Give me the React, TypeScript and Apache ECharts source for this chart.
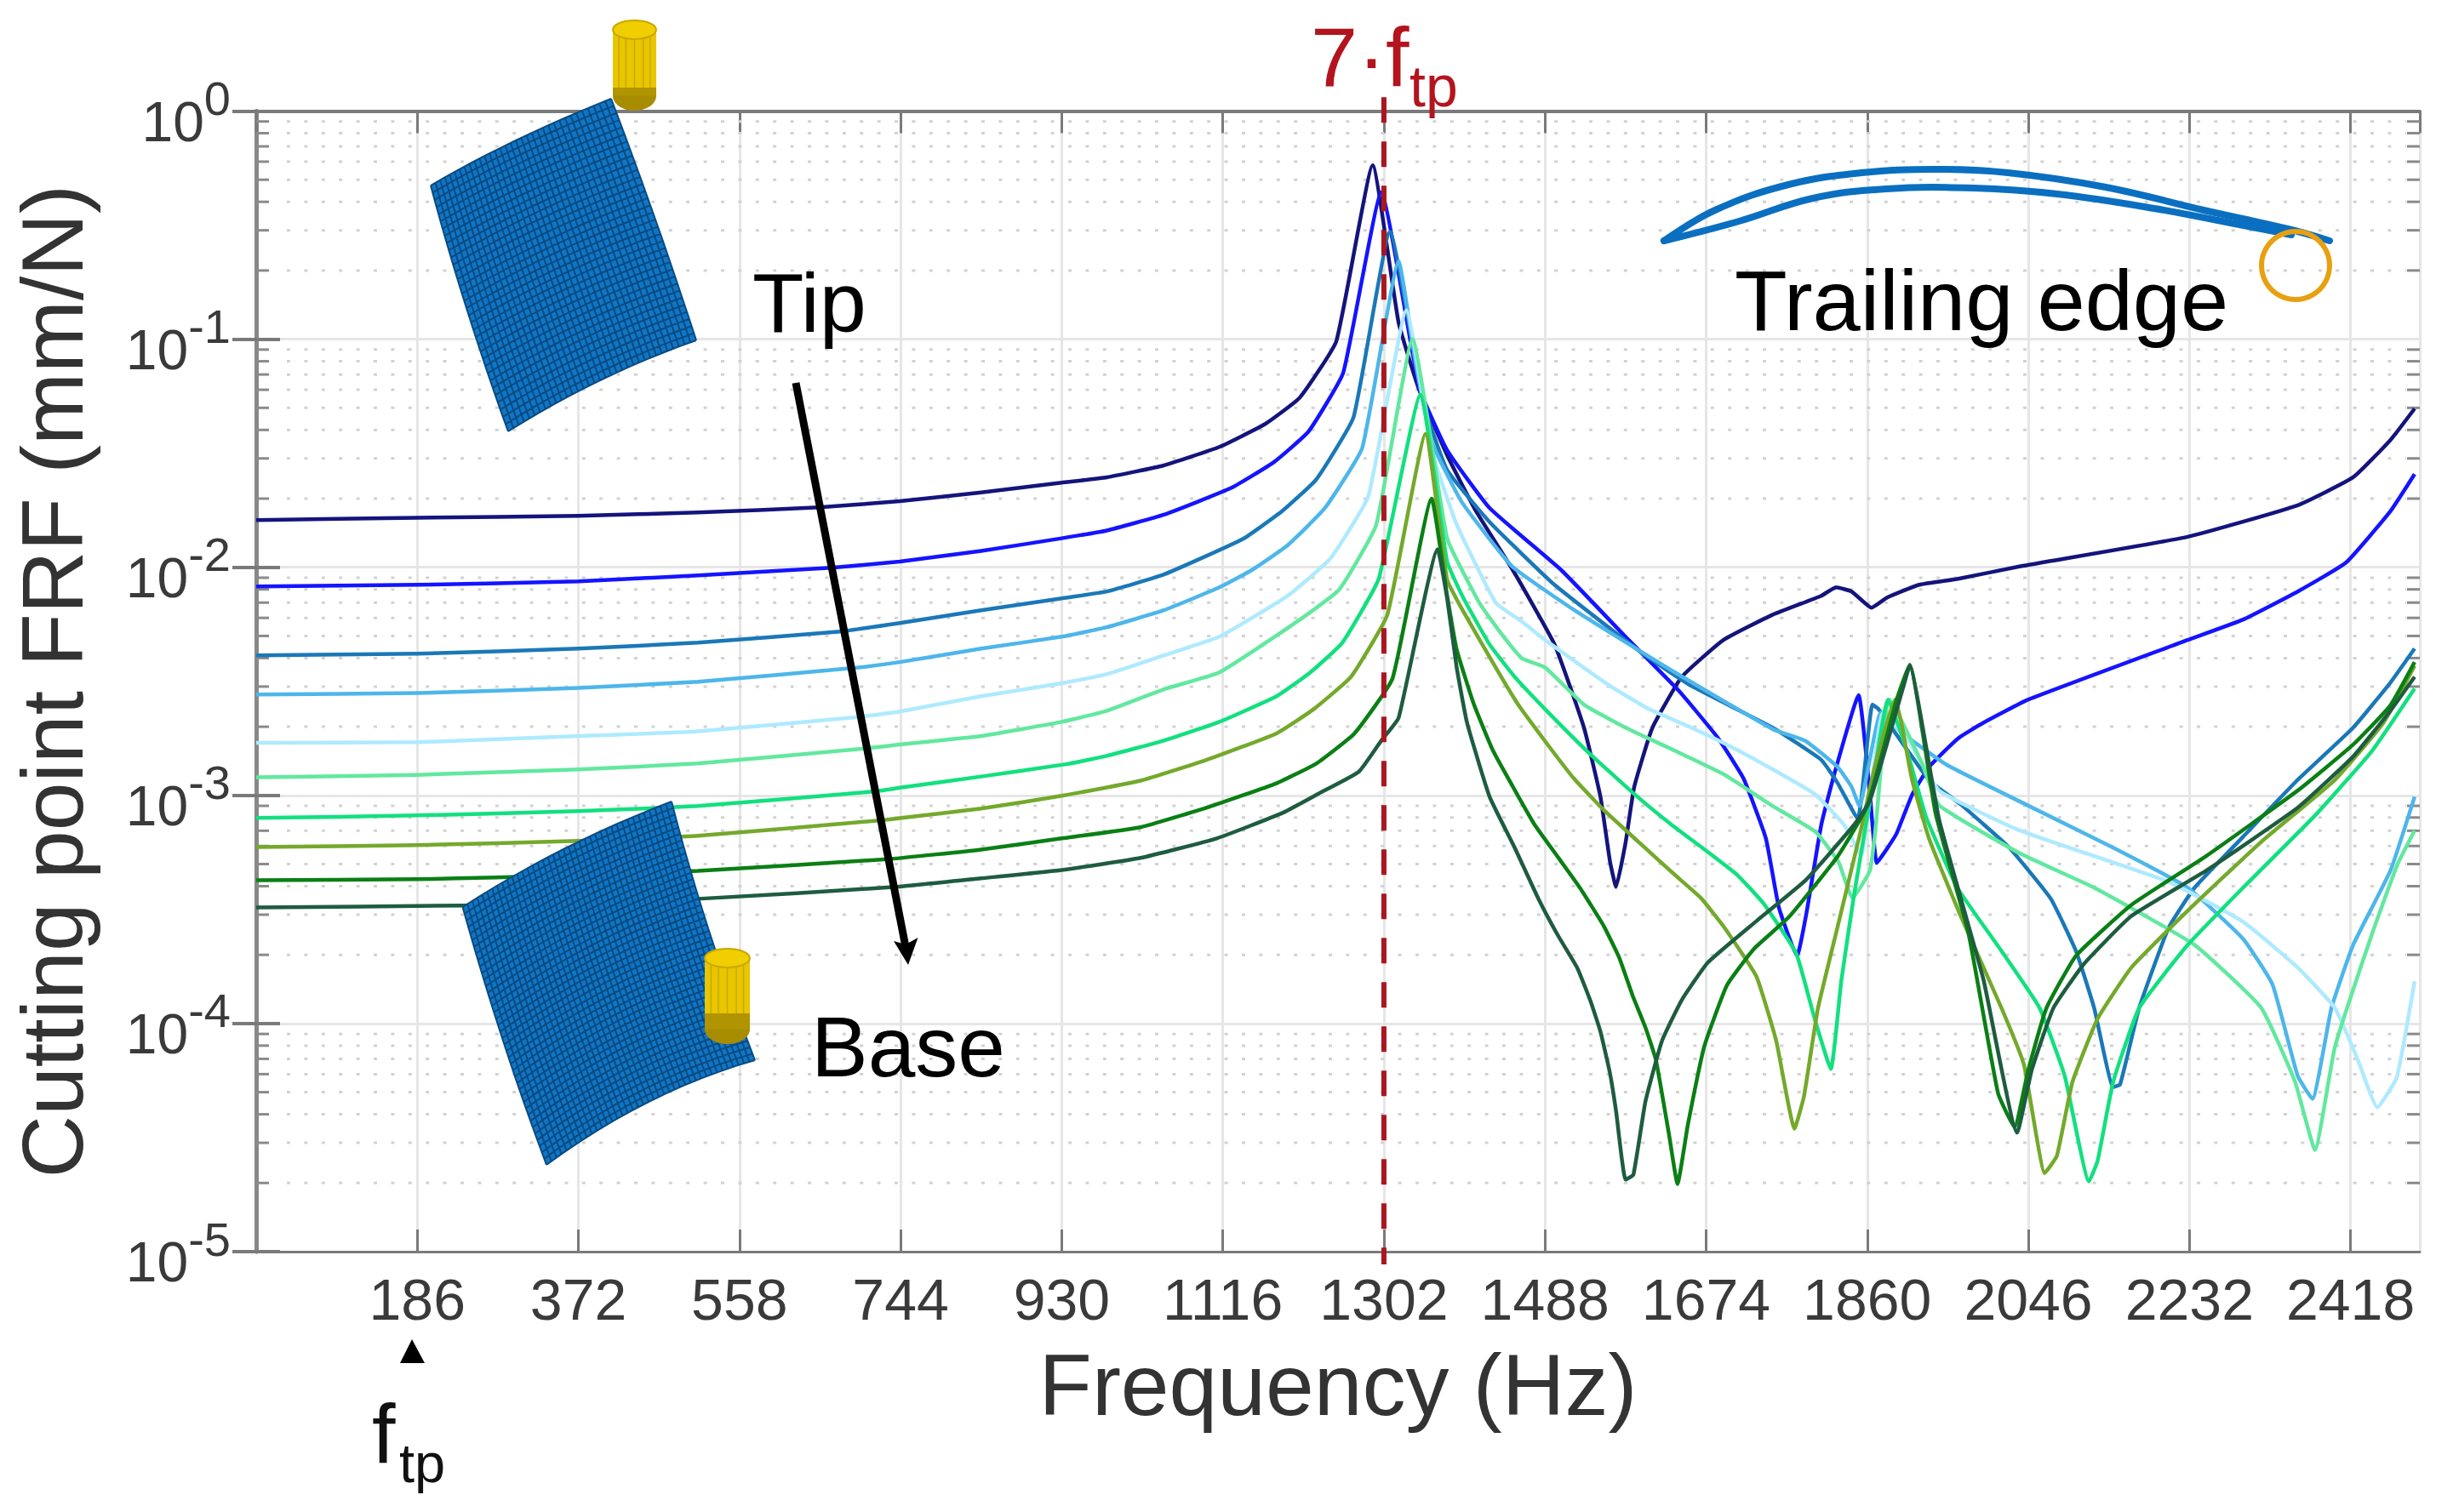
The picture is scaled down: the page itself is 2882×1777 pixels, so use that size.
import React, { useEffect, useRef } from "react";
import * as echarts from "echarts";

const xTickLabels = [186, 372, 558, 744, 930, 1116, 1302, 1488, 1674, 1860, 2046, 2232, 2418];
const yTickExponents = ["0", "-1", "-2", "-3", "-4", "-5"];
const minorFrf = [
  9e-1, 8e-1, 7e-1, 6e-1, 5e-1, 4e-1, 3e-1, 2e-1,
  9e-2, 8e-2, 7e-2, 6e-2, 5e-2, 4e-2, 3e-2, 2e-2,
  9e-3, 8e-3, 7e-3, 6e-3, 5e-3, 4e-3, 3e-3, 2e-3,
  9e-4, 8e-4, 7e-4, 6e-4, 5e-4, 4e-4, 3e-4, 2e-4,
  9e-5, 8e-5, 7e-5, 6e-5, 5e-5, 4e-5, 3e-5, 2e-5,
];
const harmonicFreq = [1302, 1302];
const harmonicFrf = [1.15, 8.8e-6];

const c1Freq = [0, 186, 372, 510, 650, 743, 837, 930, 982, 1047, 1112, 1165, 1205, 1247, 1289, 1319, 1342, 1375, 1408, 1451, 1499, 1533, 1552, 1563, 1570, 1581, 1591, 1612, 1646, 1694, 1751, 1807, 1824, 1842, 1865, 1883, 1920, 1965, 2037, 2230, 2357, 2421, 2464, 2492];
const c1Frf = [0.0161, 0.0165, 0.0168, 0.0174, 0.0183, 0.0195, 0.0213, 0.0235, 0.0248, 0.0279, 0.0337, 0.0425, 0.0555, 0.0979, 0.579, 0.118, 0.061, 0.031, 0.0177, 0.0097, 0.00459, 0.00198, 0.000987, 0.000514, 0.000397, 0.00062, 0.00109, 0.00198, 0.00331, 0.0048, 0.0062, 0.0075, 0.00817, 0.00783, 0.00665, 0.00737, 0.00838, 0.0089, 0.0101, 0.0136, 0.0187, 0.0248, 0.0361, 0.0496];

const c2Freq = [0, 186, 372, 510, 664, 743, 837, 930, 982, 1048, 1126, 1175, 1215, 1255, 1299, 1343, 1375, 1424, 1507, 1579, 1642, 1687, 1717, 1743, 1758, 1779, 1790, 1807, 1822, 1850, 1863, 1871, 1883, 1894, 1912, 1932, 1965, 1994, 2046, 2230, 2294, 2357, 2413, 2464, 2492];
const c2Frf = [0.00824, 0.00838, 0.00868, 0.00922, 0.00996, 0.0106, 0.0118, 0.0134, 0.0145, 0.017, 0.0223, 0.0289, 0.0394, 0.0712, 0.44, 0.061, 0.0326, 0.0182, 0.0097, 0.00505, 0.00289, 0.0018, 0.00119, 0.000648, 0.000323, 0.000198, 0.000307, 0.000744, 0.00124, 0.00275, 0.00103, 0.000505, 0.000585, 0.000682, 0.00101, 0.00134, 0.00178, 0.00208, 0.00263, 0.0048, 0.0059, 0.00783, 0.0105, 0.0176, 0.0256];

const c3Freq = [0, 186, 372, 510, 674, 743, 837, 930, 982, 1048, 1139, 1185, 1224, 1267, 1309, 1348, 1375, 1424, 1499, 1601, 1657, 1751, 1807, 1826, 1849, 1866, 1873, 1932, 1968, 2024, 2072, 2101, 2122, 2144, 2152, 2174, 2208, 2238, 2294, 2357, 2421, 2464, 2492];
const c3Frf = [0.00411, 0.00418, 0.0044, 0.00467, 0.00523, 0.0057, 0.00648, 0.00731, 0.00783, 0.0093, 0.0133, 0.0177, 0.0243, 0.0456, 0.296, 0.0518, 0.0267, 0.0158, 0.00838, 0.00418, 0.00302, 0.00198, 0.00143, 0.00113, 0.00079, 0.0025, 0.00239, 0.00116, 0.000913, 0.00059, 0.000352, 0.000208, 0.000117, 0.0000527, 0.0000541, 0.000117, 0.000263, 0.000394, 0.000659, 0.00117, 0.00198, 0.00312, 0.0044];

const c4Freq = [0, 186, 372, 510, 687, 743, 837, 930, 982, 1048, 1112, 1149, 1191, 1234, 1277, 1319, 1339, 1358, 1392, 1450, 1525, 1638, 1751, 1789, 1826, 1842, 1851, 1876, 1901, 1952, 2037, 2144, 2230, 2294, 2328, 2357, 2374, 2396, 2421, 2464, 2492];
const c4Frf = [0.00277, 0.00281, 0.00296, 0.00315, 0.00361, 0.00384, 0.0044, 0.00496, 0.00546, 0.00648, 0.00817, 0.0097, 0.0125, 0.0182, 0.0334, 0.219, 0.077, 0.0349, 0.0193, 0.0101, 0.00637, 0.00346, 0.00195, 0.00173, 0.00133, 0.00109, 0.000898, 0.00231, 0.00187, 0.00136, 0.000937, 0.00059, 0.000394, 0.000235, 0.000148, 0.000059, 0.0000467, 0.000117, 0.000221, 0.000467, 0.000987];

const c5Freq = [0, 186, 372, 510, 697, 743, 837, 930, 982, 1048, 1112, 1191, 1240, 1284, 1328, 1358, 1386, 1431, 1461, 1488, 1563, 1608, 1657, 1702, 1751, 1800, 1834, 1853, 1878, 1906, 1943, 2037, 2208, 2294, 2357, 2400, 2426, 2449, 2471, 2481, 2492];
const c5Frf = [0.0017, 0.00171, 0.00182, 0.00191, 0.00221, 0.00233, 0.00272, 0.0031, 0.0034, 0.00411, 0.00496, 0.0075, 0.0109, 0.0205, 0.134, 0.0318, 0.0154, 0.007, 0.00579, 0.0048, 0.00302, 0.00239, 0.00198, 0.00164, 0.0013, 0.00101, 0.000737, 0.000546, 0.00229, 0.00178, 0.00105, 0.0007, 0.000418, 0.000279, 0.000176, 0.000117, 0.00007, 0.0000429, 0.0000575, 0.0000883, 0.000153];

const c6Freq = [0, 186, 372, 510, 706, 743, 837, 930, 982, 1048, 1112, 1198, 1250, 1293, 1335, 1375, 1412, 1435, 1461, 1488, 1533, 1581, 1638, 1694, 1751, 1800, 1827, 1843, 1863, 1869, 1886, 1923, 1943, 2037, 2122, 2238, 2315, 2354, 2377, 2400, 2443, 2472, 2492];
const c6Frf = [0.0012, 0.00123, 0.0013, 0.00138, 0.00161, 0.00167, 0.00182, 0.0021, 0.00235, 0.00292, 0.00346, 0.00565, 0.00796, 0.0153, 0.1, 0.0134, 0.007, 0.00527, 0.004, 0.00364, 0.0025, 0.00198, 0.00157, 0.00124, 0.000898, 0.000694, 0.000509, 0.000355, 0.000467, 0.000677, 0.00263, 0.00139, 0.000906, 0.000555, 0.000394, 0.000221, 0.000117, 0.0000555, 0.0000279, 0.000079, 0.000248, 0.000496, 0.0007];

const c7Freq = [0, 186, 372, 510, 713, 743, 837, 935, 982, 1048, 1112, 1178, 1217, 1254, 1296, 1344, 1375, 1394, 1424, 1453, 1488, 1536, 1589, 1634, 1676, 1710, 1740, 1778, 1799, 1818, 1830, 1845, 1864, 1884, 1906, 1928, 1964, 2015, 2059, 2088, 2116, 2126, 2144, 2174, 2230, 2294, 2379, 2443, 2492];
const c7Frf = [0.000796, 0.000817, 0.000853, 0.000898, 0.00104, 0.00108, 0.00121, 0.00137, 0.00149, 0.00174, 0.0021, 0.00272, 0.00346, 0.00467, 0.0089, 0.057, 0.0106, 0.0073, 0.00459, 0.00331, 0.00239, 0.00157, 0.00103, 0.000744, 0.000565, 0.000448, 0.000337, 0.000203, 0.000106, 0.0000632, 0.000153, 0.00037, 0.000987, 0.00263, 0.00156, 0.000803, 0.000394, 0.000208, 0.000117, 0.000059, 0.0000203, 0.000025, 0.0000555, 0.000117, 0.000221, 0.000394, 0.000831, 0.00157, 0.00294];

const c8Freq = [0, 186, 372, 510, 719, 743, 837, 930, 1021, 1097, 1178, 1221, 1264, 1306, 1350, 1375, 1394, 1431, 1457, 1488, 1521, 1556, 1597, 1638, 1668, 1694, 1732, 1755, 1776, 1787, 1803, 1826, 1853, 1868, 1892, 1899, 1912, 1932, 1968, 2015, 2041, 2065, 2079, 2097, 2126, 2165, 2230, 2315, 2400, 2456, 2492];
const c8Frf = [0.000594, 0.000605, 0.000632, 0.000665, 0.000776, 0.000795, 0.000875, 0.000996, 0.00116, 0.00143, 0.00187, 0.00239, 0.00331, 0.0062, 0.0384, 0.00883, 0.00637, 0.00364, 0.0025, 0.00173, 0.00119, 0.000861, 0.00062, 0.000448, 0.000355, 0.000267, 0.000161, 0.0000838, 0.0000346, 0.000048, 0.000116, 0.000267, 0.000712, 0.0013, 0.00263, 0.00212, 0.00116, 0.000637, 0.000296, 0.000117, 0.0000659, 0.0000221, 0.0000263, 0.0000555, 0.000105, 0.000176, 0.000312, 0.000626, 0.00117, 0.00208, 0.0037];

const c9Freq = [0, 186, 277, 510, 733, 837, 930, 1021, 1100, 1178, 1224, 1268, 1312, 1357, 1375, 1386, 1406, 1428, 1451, 1476, 1503, 1529, 1556, 1574, 1589, 1604, 1616, 1631, 1641, 1653, 1672, 1698, 1729, 1770, 1826, 1860, 1894, 1909, 1939, 1977, 2011, 2030, 2046, 2067, 2101, 2165, 2251, 2357, 2421, 2464, 2492];
const c9Frf = [0.000425, 0.000429, 0.000437, 0.000467, 0.000527, 0.000579, 0.000648, 0.000725, 0.00089, 0.00113, 0.00138, 0.00187, 0.00326, 0.02, 0.0075, 0.00436, 0.0025, 0.00157, 0.00109, 0.000744, 0.000536, 0.00039, 0.000267, 0.000193, 0.000133, 0.000096, 0.0000694, 0.0000329, 0.0000198, 0.0000361, 0.0000796, 0.000147, 0.000212, 0.000294, 0.000541, 0.000898, 0.00263, 0.00374, 0.000831, 0.000248, 0.0000496, 0.0000352, 0.0000626, 0.000117, 0.000198, 0.000331, 0.000541, 0.00105, 0.00167, 0.00248, 0.00384];

const c10Freq = [0, 238, 510, 739, 837, 930, 1021, 1109, 1185, 1227, 1273, 1299, 1319, 1364, 1375, 1386, 1398, 1424, 1453, 1480, 1503, 1525, 1540, 1552, 1563, 1570, 1581, 1590, 1604, 1623, 1646, 1676, 1732, 1789, 1845, 1863, 1902, 1909, 1943, 1994, 2033, 2050, 2075, 2110, 2165, 2251, 2357, 2421, 2464, 2492];
const c10Frf = [0.000323, 0.000329, 0.000352, 0.000397, 0.000433, 0.000471, 0.000532, 0.000648, 0.000838, 0.00102, 0.00127, 0.00174, 0.00219, 0.012, 0.00731, 0.00364, 0.00208, 0.000987, 0.00059, 0.000355, 0.000243, 0.000176, 0.000127, 0.0000922, 0.0000605, 0.0000414, 0.0000207, 0.0000217, 0.0000456, 0.0000838, 0.000127, 0.000185, 0.000281, 0.000425, 0.000744, 0.000946, 0.00302, 0.0037, 0.000783, 0.000157, 0.0000332, 0.0000626, 0.000117, 0.000182, 0.000296, 0.000467, 0.000883, 0.00148, 0.00235, 0.00331];

const curveColors = ["#14147c", "#1414ff", "#1a78b8", "#4db6ea", "#aeeaff", "#62e89f", "#12e07f", "#74a92c", "#0a7f14", "#1e5c40"];
const curveFreqs = [c1Freq, c2Freq, c3Freq, c4Freq, c5Freq, c6Freq, c7Freq, c8Freq, c9Freq, c10Freq];
const curveFrfs = [c1Frf, c2Frf, c3Frf, c4Frf, c5Frf, c6Frf, c7Frf, c8Frf, c9Frf, c10Frf];

type P = [number, number];
const quad = (a: P, m: P, b: P, t: number): P => {
  const cx = 2 * m[0] - 0.5 * (a[0] + b[0]);
  const cy = 2 * m[1] - 0.5 * (a[1] + b[1]);
  const s = 1 - t;
  return [s * s * a[0] + 2 * s * t * cx + t * t * b[0], s * s * a[1] + 2 * s * t * cy + t * t * b[1]];
};
function bladePaths(A: P, B: P, C: P, D: P, tm: P, bm: P, lm: P, rm: P, n: number) {
  const S = (u: number, v: number): P => {
    const T = quad(A, tm, B, u);
    const Bo = quad(C, bm, D, u);
    const L = quad(A, lm, C, v);
    const R = quad(B, rm, D, v);
    const f = (i: number) =>
      (1 - v) * T[i] + v * Bo[i] + (1 - u) * L[i] + u * R[i] -
      ((1 - u) * (1 - v) * A[i] + u * (1 - v) * B[i] + (1 - u) * v * C[i] + u * v * D[i]);
    return [f(0), f(1)];
  };
  const pts: P[] = [];
  const N = 30;
  for (let i = 0; i <= N; i++) pts.push(S(i / N, 0));
  for (let i = 1; i <= N; i++) pts.push(S(1, i / N));
  for (let i = N - 1; i >= 0; i--) pts.push(S(i / N, 1));
  for (let i = N - 1; i > 0; i--) pts.push(S(0, i / N));
  const fmt = (p: P) => `${p[0].toFixed(1)} ${p[1].toFixed(1)}`;
  const outline = "M" + pts.map(fmt).join("L") + "Z";
  let mesh = "";
  for (let i = 0; i <= n; i++) {
    const a: string[] = [];
    const b: string[] = [];
    for (let j = 0; j <= 12; j++) {
      a.push(fmt(S(i / n, j / 12)));
      b.push(fmt(S(j / 12, i / n)));
    }
    mesh += "M" + a.join("L") + "M" + b.join("L");
  }
  return { outline, mesh };
}

const blade1 = bladePaths([506, 218], [718, 116], [597, 507], [818, 400], [606, 165], [705, 447], [548, 362], [770, 258], 34);
const blade2 = bladePaths([543.5, 1066], [789, 942], [642, 1369], [887, 1246], [662, 998], [762, 1295], [590, 1220], [833, 1094], 40);

echarts.graphic.registerShape("blade1Fill", echarts.graphic.extendPath(blade1.outline, {}));
echarts.graphic.registerShape("blade1Mesh", echarts.graphic.extendPath(blade1.mesh, {}));
echarts.graphic.registerShape("blade2Fill", echarts.graphic.extendPath(blade2.outline, {}));
echarts.graphic.registerShape("blade2Mesh", echarts.graphic.extendPath(blade2.mesh, {}));

const FONT = '"Liberation Sans", Arial, sans-serif';

function tool(x: number, w: number, top: number, band: number, bottom: number) {
  const rx = w / 2;
  const cx = x + rx;
  const ry = 11;
  const stripes = [0.14, 0.3, 0.5, 0.7, 0.86].map((k) => ({
    type: "line", z: 102,
    shape: { x1: x + w * k, y1: top + ry, x2: x + w * k, y2: band },
    style: { stroke: "#c9a800", lineWidth: 1.5 },
  }));
  return [
    { type: "ellipse", z: 101, shape: { cx, cy: bottom - ry * 1.6, rx, ry: ry * 1.6 }, style: { fill: "#a88c00" } },
    { type: "rect", z: 101, shape: { x, y: band, width: w, height: bottom - band - ry * 1.6 }, style: { fill: "#b09400" } },
    { type: "rect", z: 101, shape: { x, y: top + ry, width: w, height: band - top - ry }, style: { fill: "#e8c600" } },
    ...stripes,
    { type: "ellipse", z: 103, shape: { cx, cy: top + ry, rx, ry }, style: { fill: "#f0ce00", stroke: "#c9a800", lineWidth: 2 } },
  ];
}

const textEl = (text: string, x: number, baseline: number, size: number, fill: string) => ({
  type: "text", z: 110, x, y: baseline - size * 0.905,
  style: { text, fill, font: `${size}px ${FONT}`, verticalAlign: "top", align: "left", lineHeight: size * 1.117 },
});

function buildOption() {
  const yAxisBase = {
    type: "log", min: 1e-5, max: 1, logBase: 10, interval: 1,
    axisLine: { show: true, lineStyle: { color: "#888888", width: 5 } },
    axisTick: { show: true, inside: true, length: 28, lineStyle: { color: "#7a7a7a", width: 4 } },
    minorTick: { show: false }, minorSplitLine: { show: false },
  };
  return {
    animation: false,
    backgroundColor: "#ffffff",
    grid: { left: 301, top: 130.5, width: 2542, height: 1340.5, containLabel: false, outerBoundsMode: "none" },
    xAxis: [
      {
        type: "value", min: 0, max: 2498, interval: 186,
        name: "Frequency (Hz)", nameLocation: "middle", nameGap: 106,
        nameTextStyle: { fontFamily: FONT, fontSize: 102, color: "#333333" },
        axisLine: { show: true, onZero: false, lineStyle: { color: "#7a7a7a", width: 3 } },
        axisTick: { show: true, inside: true, length: 26, lineStyle: { color: "#7a7a7a", width: 3 } },
        splitLine: { show: true, lineStyle: { color: "#e6e6e6", width: 3 } },
        axisLabel: {
          show: true, margin: 22, fontFamily: FONT, fontSize: 68, color: "#3a3a3a",
          showMinLabel: false, showMaxLabel: false,
          formatter: (v: number) => (xTickLabels.includes(v) ? String(v) : ""),
        },
      },
      {
        type: "value", position: "top", min: 0, max: 2498, interval: 186,
        axisLine: { show: true, onZero: false, lineStyle: { color: "#7a7a7a", width: 4 } },
        axisTick: { show: true, inside: true, length: 26, lineStyle: { color: "#7a7a7a", width: 3 } },
        splitLine: { show: false }, axisLabel: { show: false },
      },
    ],
    yAxis: [
      {
        ...yAxisBase, position: "left",
        name: "Cutting point FRF (mm/N)", nameLocation: "middle", nameGap: 188, nameRotate: 90,
        nameTextStyle: { fontFamily: FONT, fontSize: 102, color: "#333333" },
        splitLine: { show: true, lineStyle: { color: "#e6e6e6", width: 3 } },
        axisLabel: {
          show: true, margin: 30, align: "right", fontFamily: FONT, color: "#3a3a3a",
          padding: [24, 0, 0, 0],
          formatter: (v: number) => `{b|10}{s|${yTickExponents[Math.round(-Math.log10(v))]}}`,
          rich: {
            b: { fontFamily: FONT, fontSize: 66, color: "#3a3a3a", lineHeight: 66, verticalAlign: "bottom" },
            s: { fontFamily: FONT, fontSize: 56, color: "#3a3a3a", lineHeight: 56, padding: [0, 0, 32, 0], verticalAlign: "bottom" },
          },
        },
      },
      { ...yAxisBase, position: "right", splitLine: { show: false }, axisLabel: { show: false } },
    ],
    series: [
      {
        type: "custom", silent: true, z: 1, xAxisIndex: 0, yAxisIndex: 0,
        data: minorFrf.map((v) => [0, v]),
        encode: { x: 0, y: 1 },
        renderItem: (params: any, api: any) => {
          const y = api.coord([0, api.value(1)])[1];
          const l = params.coordSys.x;
          const r = l + params.coordSys.width;
          return {
            type: "group",
            children: [
              { type: "line", shape: { x1: 337, y1: y, x2: r - 16, y2: y }, style: { stroke: "#d2d2d2", lineWidth: 3, lineDash: [4, 16.4] } },
              { type: "line", shape: { x1: l, y1: y, x2: l + 15, y2: y }, style: { stroke: "#8a8a8a", lineWidth: 3 } },
              { type: "line", shape: { x1: r - 15, y1: y, x2: r, y2: y }, style: { stroke: "#8a8a8a", lineWidth: 3 } },
            ],
          };
        },
      },
      ...curveFreqs.map((fr, i) => ({
        type: "line", z: 3 + i, symbol: "none", silent: true, smooth: 0.13, showSymbol: false,
        lineStyle: { color: curveColors[i], width: 4.5, join: "round" },
        data: fr.map((f, k) => [f, curveFrfs[i][k]]),
      })),
      {
        type: "line", z: 20, symbol: "none", silent: true, clip: false,
        lineStyle: { color: "#a81820", width: 6, type: [30, 22] },
        data: harmonicFreq.map((f, k) => [f, harmonicFrf[k]]),
      },
    ],
    graphic: {
      elements: [
        { type: "blade1Fill", z: 100, style: { fill: "#0f76c6" } },
        { type: "blade1Mesh", z: 100, style: { fill: "none", stroke: "#0a4a80", lineWidth: 2 } },
        { type: "blade2Fill", z: 100, style: { fill: "#0f76c6" } },
        { type: "blade2Mesh", z: 100, style: { fill: "none", stroke: "#0a4a80", lineWidth: 2 } },
        ...tool(720, 51, 24, 103, 130),
        ...tool(828, 53, 1115, 1191, 1227),
        textEl("Tip", 884, 390, 99, "#000000"),
        textEl("Trailing edge", 2038, 388, 101, "#000000"),
        textEl("Base", 953, 1265, 100, "#000000"),
        textEl("7·f", 1540, 101, 99, "#b3141e"),
        textEl("tp", 1656, 125, 68, "#b3141e"),
        textEl("f", 437, 1719, 99, "#111111"),
        textEl("tp", 469, 1742, 65, "#111111"),
        { type: "polygon", z: 110, shape: { points: [[484, 1574], [470, 1602], [499, 1602]] }, style: { fill: "#000000" } },
        { type: "line", z: 105, shape: { x1: 935, y1: 450, x2: 1065, y2: 1118 }, style: { stroke: "#000000", lineWidth: 9 } },
        { type: "polygon", z: 105, shape: { points: [[1067, 1134], [1050, 1106], [1064, 1110], [1078.5, 1102]] }, style: { fill: "#000000" } },
        {
          type: "polyline", z: 100,
          shape: {
            smooth: 0.4,
            points: [[1955, 283], [2015, 247], [2101, 217], [2187, 203], [2273, 199], [2359, 203], [2474, 220], [2589, 247], [2692, 270], [2737, 283]],
          },
          style: { fill: "none", stroke: "#0a6fc0", lineWidth: 8, lineCap: "round" },
        },
        {
          type: "polyline", z: 100,
          shape: {
            smooth: 0.4,
            points: [[1955, 283], [2043, 260], [2130, 233], [2216, 222], [2319, 221], [2417, 228], [2531, 245], [2646, 267], [2692, 276]],
          },
          style: { fill: "none", stroke: "#0a6fc0", lineWidth: 8, lineCap: "round" },
        },
        { type: "circle", z: 101, shape: { cx: 2697, cy: 312, r: 40 }, style: { fill: "none", stroke: "#e8a010", lineWidth: 6 } },
      ],
    },
  };
}

export default function App() {
  const ref = useRef<HTMLDivElement>(null);
  useEffect(() => {
    document.body.style.margin = "0";
    const chart = echarts.init(ref.current!, null, { renderer: "svg" });
    chart.setOption(buildOption() as any);
    return () => chart.dispose();
  }, []);
  return <div ref={ref} style={{ width: 2882, height: 1777 }} />;
}
